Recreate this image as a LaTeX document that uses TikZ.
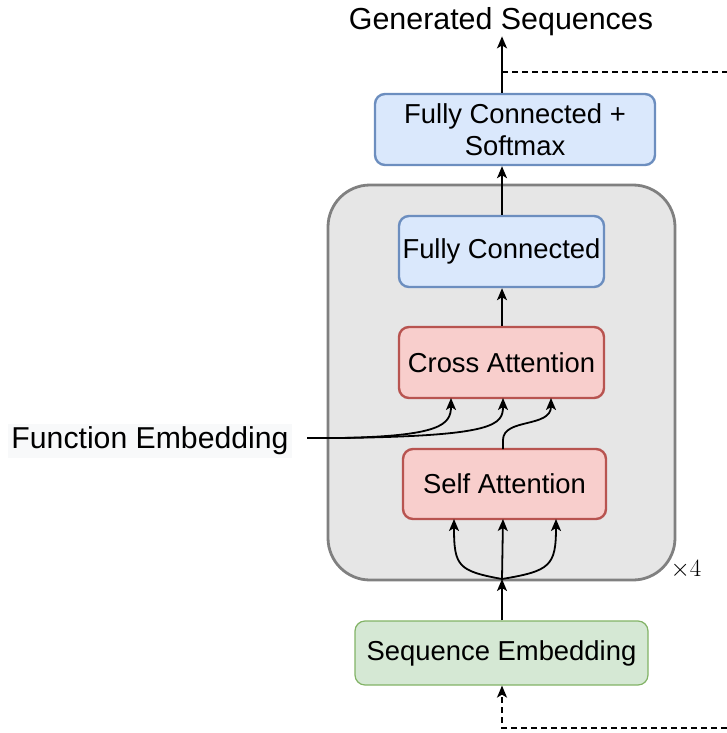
\documentclass[tikz,border=0pt]{standalone}
\usepackage{fontspec}
\setmainfont{Liberation Sans}
\usetikzlibrary{arrows.meta}
\definecolor{blueFill}{HTML}{DAE8FC}
\definecolor{blueLine}{HTML}{6C8EBF}
\definecolor{redFill}{HTML}{F8CECC}
\definecolor{redLine}{HTML}{B85450}
\definecolor{greenFill}{HTML}{D5E8D4}
\definecolor{greenLine}{HTML}{82B366}
\definecolor{stackFill}{HTML}{E6E6E6}
\definecolor{stackLine}{HTML}{808080}
\definecolor{labelFill}{HTML}{F8F9FA}

\begin{document}
\begin{tikzpicture}[x=1pt,y=-1pt]
\tikzstyle{every node}+=[inner sep=0pt, font=\fontsize{27.4}{32}\selectfont]
\tikzstyle{box}=[draw, line width=2.4pt, rounded corners=10pt, align=center]
\tikzstyle{bluebox}=[box, fill=blueFill, draw=blueLine]
\tikzstyle{redbox}=[box, fill=redFill, draw=redLine]
\tikzstyle{greenbox}=[box, fill=greenFill, draw=greenLine, line width=1.2pt]
\tikzstyle{arr}=[line width=1.8pt, -{Stealth[length=12pt,width=10pt,inset=3pt]}]
\tikzstyle{feedback}=[line width=1.6pt, dash pattern=on 6pt off 4pt]
\useasboundingbox (0,0) rectangle (727,733);
% blocks
\node [draw=stackLine, fill=stackFill, line width=2.8pt, rounded corners=42pt,
       minimum width=347pt, minimum height=395pt] (stack) at (501.5,382.5) {};
\node [bluebox, minimum width=280pt, minimum height=71pt] (fcsm) at (515,129.5) {Fully Connected +\\Softmax};
\node [bluebox, minimum width=205pt, minimum height=71pt] (fc) at (501.5,251.5) {Fully Connected};
\node [redbox, minimum width=205pt, minimum height=71pt] (cross) at (501.5,362.5) {Cross Attention};
\node [redbox, minimum width=203pt, minimum height=70pt] (self) at (504.5,484) {Self Attention};
\node [greenbox, minimum width=293pt, minimum height=64pt] (seqemb) at (501.5,653) {Sequence Embedding};
% labels
\node (genseq) at (501,22) {\fontsize{30.4}{35}\selectfont Generated Sequences};
\node [fill=labelFill, inner sep=3pt] (funcemb) at (150,441) {\fontsize{30.2}{35}\selectfont Function Embedding};
\node (times) at (686,570) {\fontsize{25}{30}\selectfont $\times 4$};
% helper coordinates
\coordinate (split) at (502,579);
\coordinate (fbtop) at (727,72);
\coordinate (fbbot) at (727,728);
\coordinate (fein) at (307,438);
% connectors
\draw [arr] (seqemb.north -| split) -- (split);
\draw [arr] (split) .. controls (458,571) and (454,566) .. (454,519);
\draw [arr] (split) -- (503,519);
\draw [arr] (split) .. controls (550,571) and (556,566) .. (556,519);
\draw [arr] (503,449) -- (503,440) .. controls (503,418) and (551,428) .. (551,398);
\draw [arr] (fein) -- (340,438) .. controls (440,436) and (451,425) .. (451,398);
\draw [arr] (fein) -- (340,438) .. controls (495,436) and (503,425) .. (503,398);
\draw [arr] (cross.north -| split) -- (fc.south -| split);
\draw [arr] (fc.north -| split) -- (fcsm.south -| split);
\draw [arr] (fcsm.north -| split) -- (genseq.south -| split);
\draw [feedback] (split |- fbtop) -- (fbtop);
\draw [feedback, -{Stealth[length=12pt,width=10pt,inset=3pt]}] (fbbot) -- (split |- fbbot) -- (seqemb.south -| split);
\end{tikzpicture}
\end{document}
